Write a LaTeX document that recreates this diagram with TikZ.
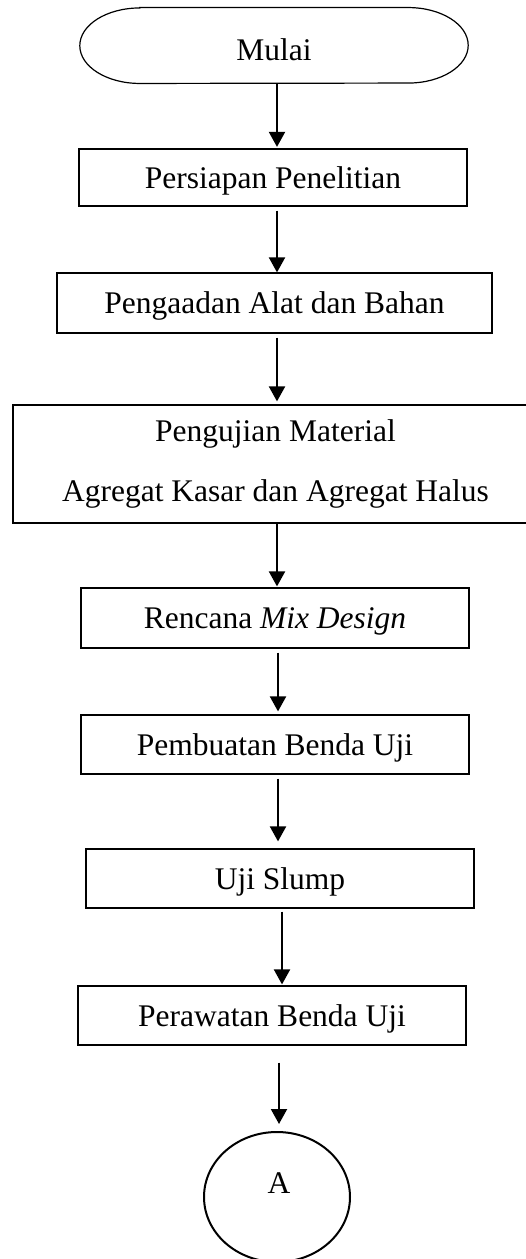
\documentclass[tikz,border=0pt]{standalone}
\usepackage{fontspec}
\setmainfont{Liberation Serif}
\usetikzlibrary{arrows.meta,shapes.geometric}

\tikzset{
  base/.style={font=\fontsize{31.5}{60}\selectfont, inner sep=0pt, text height=21pt, text depth=0pt},
  stepbox/.style={base, draw, line width=1.2pt},
  flow/.style={line width=2pt, -{Triangle[length=15pt,width=16pt]}},
}

\begin{document}
\begin{tikzpicture}[x=1pt, y=-1pt]
  \useasboundingbox (0,0) rectangle (526,1259);

  % start terminal: label node, outline drawn around it
  \node[base, text height=29pt, minimum width=388pt, minimum height=75.5pt] (mulai) at (274,45.5) {Mulai};
  \draw[line width=1.2pt]
    ([xshift=60pt]mulai.north west) -- ([xshift=-60pt]mulai.north east)
    arc[start angle=90, end angle=-90, x radius=60pt, y radius=37.75pt]
    -- ([xshift=60pt]mulai.south west)
    arc[start angle=270, end angle=90, x radius=60pt, y radius=37.75pt] -- cycle;

  % process steps
  \node[stepbox, minimum width=388pt, minimum height=57pt] (persiapan) at (273,177.5) {Persiapan Penelitian};
  \node[stepbox, minimum width=435pt, minimum height=60pt] (pengadaan) at (274.5,303) {Pengaadan Alat dan Bahan};
  \node[stepbox, text height=, text depth=, align=center, minimum width=525pt, minimum height=118pt] (pengujian) at (275.5,464)
    {Pengujian Material\\Agregat Kasar dan Agregat Halus};
  \node[stepbox, minimum width=388pt, minimum height=60pt] (rencana) at (275,618) {Rencana \textit{Mix Design}};
  \node[stepbox, minimum width=388pt, minimum height=59pt] (pembuatan) at (275,744.5) {Pembuatan Benda Uji};
  \node[stepbox, minimum width=388pt, minimum height=59pt] (slump) at (280,878.5) {Uji Slump};
  \node[stepbox, minimum width=388pt, minimum height=59pt] (perawatan) at (272,1015.5) {Perawatan Benda Uji};

  % off-page connector
  \node[base, draw, line width=2pt, ellipse, minimum width=146pt, minimum height=130pt] (conA) at (277,1197) {};
  \node[base] (labelA) at (279,1183) {A};

  % guide lines for the vertical connectors
  \coordinate (s1) at (277,0);
  \coordinate (s2) at (278,0);
  \coordinate (s3) at (282,0);
  \coordinate (s4) at (279,0);

  % connectors
  \draw[flow, shorten >=1.5pt] (mulai.south -| s1) -- (persiapan.north -| s1);
  \draw[flow, shorten <=4pt] (persiapan.south -| s1) -- (pengadaan.north -| s1);
  \draw[flow, shorten <=4pt, shorten >=3pt] (pengadaan.south -| s1) -- (pengujian.north -| s1);
  \draw[flow, shorten >=1pt] (pengujian.south -| s1) -- (rencana.north -| s1);
  \draw[flow, shorten <=4pt, shorten >=3pt] (rencana.south -| s2) -- (pembuatan.north -| s2);
  \draw[flow, shorten <=4pt, shorten >=7pt] (pembuatan.south -| s2) -- (slump.north -| s2);
  \draw[flow, shorten <=3pt, shorten >=1pt] (slump.south -| s3) -- (perawatan.north -| s3);
  \draw[flow, shorten <=17pt, shorten >=7pt] (perawatan.south -| s4) -- (conA.north -| s4);
\end{tikzpicture}
\end{document}
